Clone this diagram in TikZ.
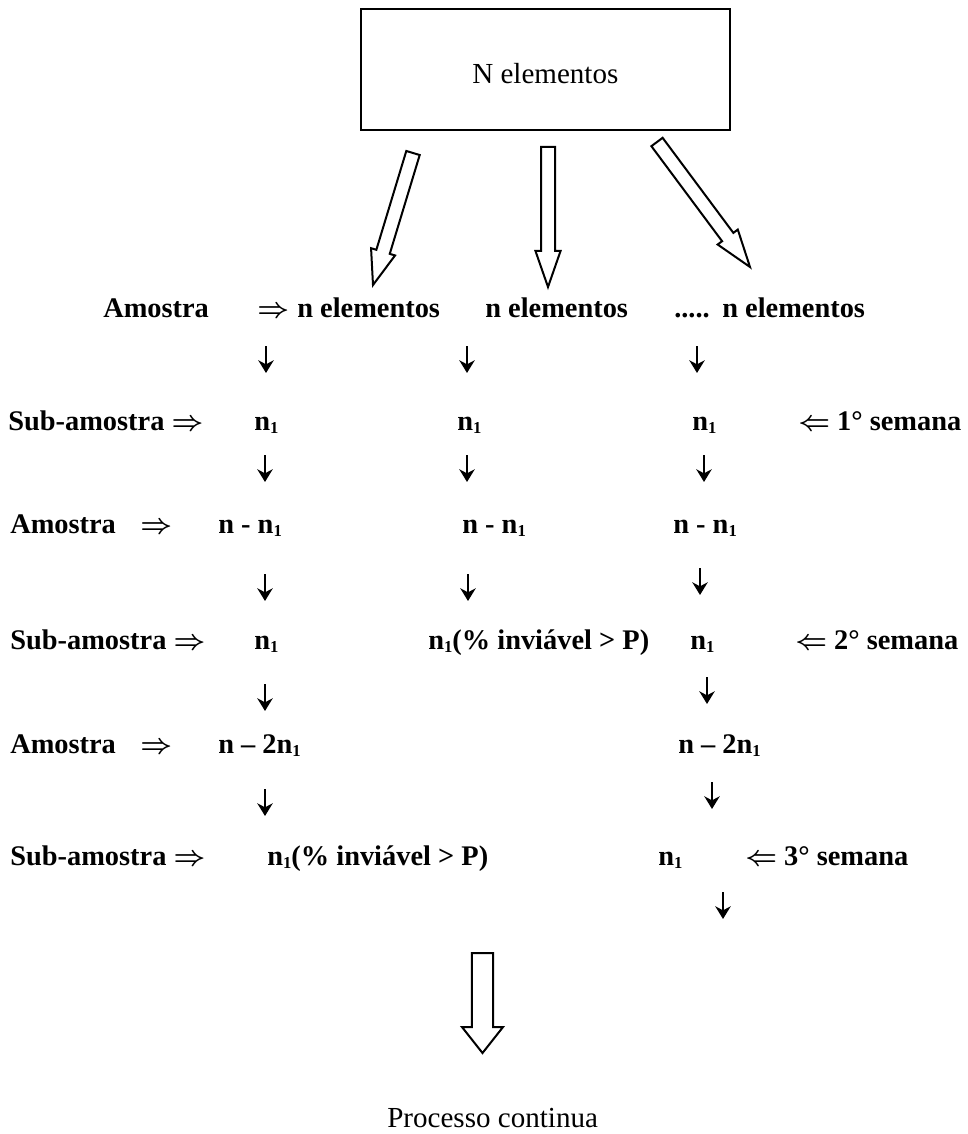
\documentclass[tikz,border=0pt]{standalone}
\usepackage{fontspec}
\setmainfont{Liberation Serif}
\usetikzlibrary{arrows.meta,calc}
\newcommand\sone{\raisebox{-0.3ex}{\fontsize{12.5}{12.5}\selectfont 1}}
\newcommand\RA{{\boldmath$\Rightarrow$}}
\newcommand\LA{{\boldmath$\Leftarrow$}}
\newcommand\hollowarrow[6]{%
  \coordinate (#3) at ($(#2)!#6!(#1)$);
  \draw[hollow] ($(#1)!#4!90:(#2)$) -- ($(#3)!#4!90:(#2)$) -- ($(#3)!#5!90:(#2)$)
    -- (#2) -- ($(#3)!#5!-90:(#2)$) -- ($(#3)!#4!-90:(#2)$) -- ($(#1)!#4!-90:(#2)$) -- cycle;}
\newcommand\darrow[4]{%
  \coordinate (#1s) at (#2,#3);
  \coordinate (#1e) at (#2,#4);
  \draw[darr] (#1s) -- (#1e);}
\tikzset{
  lab/.style={anchor=base west, inner sep=0pt, font=\fontsize{21.3}{25}\selectfont\bfseries},
  reg/.style={anchor=base west, inner sep=0pt, font=\fontsize{21.8}{26}\selectfont},
  darr/.style={line width=2pt, -{Stealth[length=9.5pt,width=11.5pt,inset=3pt]}},
  hollow/.style={draw, line width=1.5pt, fill=white, line join=miter},
}
\begin{document}
\begin{tikzpicture}[x=0.75pt, y=-0.75pt]
\useasboundingbox (0,0) rectangle (967,1134);
% top box
\node[draw, line width=2.2pt, minimum width=276.75pt, minimum height=90.75pt, inner sep=0pt] (box) at (545.5,69.5) {};
\node[reg] (boxt) at (472,84) {N elementos};
% hollow arrows
\coordinate (tL) at (413,153); \coordinate (hL) at (373,285);
\coordinate (tM) at (548,147); \coordinate (hM) at (548,287);
\coordinate (tR) at (657,142); \coordinate (hR) at (750,267);
\hollowarrow{tL}{hL}{bL}{5.25pt}{9.4pt}{26pt}
\hollowarrow{tM}{hM}{bM}{5.25pt}{9.4pt}{27pt}
\hollowarrow{tR}{hR}{bR}{5.25pt}{9.4pt}{28pt}
% row 1
\node[lab] (r1l) at (103,317) {Amostra};
\node[lab] (r1a) at (257,317) {\RA};
\node[lab] (r1c1) at (297,317) {n elementos};
\node[lab] (r1c2) at (485,317) {n elementos};
\node[lab] (r1d) at (674,317) {.....};
\node[lab] (r1c3) at (722,317) {n elementos};
\darrow{a11}{266}{346}{373}
\darrow{a12}{467}{346}{373}
\darrow{a13}{697}{346}{373}
% row 2
\node[lab] (r2l) at (8,430) {Sub-amostra \RA};
\node[lab] (r2c1) at (254,430) {n\sone};
\node[lab] (r2c2) at (457,430) {n\sone};
\node[lab] (r2c3) at (692,430) {n\sone};
\node[lab] (r2s) at (798,430) {\LA\ 1° semana};
\darrow{a21}{265}{455}{482}
\darrow{a22}{467}{455}{482}
\darrow{a23}{704}{455}{482}
% row 3
\node[lab] (r3l) at (10,533) {Amostra};
\node[lab] (r3a) at (140,533) {\RA};
\node[lab] (r3c1) at (218,533) {n - n\sone};
\node[lab] (r3c2) at (462,533) {n - n\sone};
\node[lab] (r3c3) at (673,533) {n - n\sone};
\darrow{a31}{265}{574}{601}
\darrow{a32}{468}{574}{601}
\darrow{a33}{700}{568}{595}
% row 4
\node[lab] (r4l) at (10,649) {Sub-amostra \RA};
\node[lab] (r4c1) at (254,649) {n\sone};
\node[lab] (r4c2) at (428,649) {n\sone(\% inviável > P)};
\node[lab] (r4c3) at (690,649) {n\sone};
\node[lab] (r4s) at (795,649) {\LA\ 2° semana};
\darrow{a41}{265}{684}{711}
\darrow{a43}{707}{677}{704}
% row 5
\node[lab] (r5l) at (10,753) {Amostra};
\node[lab] (r5a) at (140,753) {\RA};
\node[lab] (r5c1) at (218,753) {n – 2n\sone};
\node[lab] (r5c3) at (678,753) {n – 2n\sone};
\darrow{a51}{265}{789}{816}
\darrow{a53}{712}{782}{809}
% row 6
\node[lab] (r6l) at (10,865) {Sub-amostra \RA};
\node[lab] (r6c2) at (267,865) {n\sone(\% inviável > P)};
\node[lab] (r6c3) at (658,865) {n\sone};
\node[lab] (r6s) at (745,865) {\LA\ 3° semana};
\darrow{a63}{723}{892}{919}
% bottom
\coordinate (tB) at (482.5,953); \coordinate (hB) at (482.5,1053);
\hollowarrow{tB}{hB}{bB}{7.9pt}{15.4pt}{19.5pt}
\node[reg] (proc) at (387,1127) {Processo continua};
\end{tikzpicture}
\end{document}
